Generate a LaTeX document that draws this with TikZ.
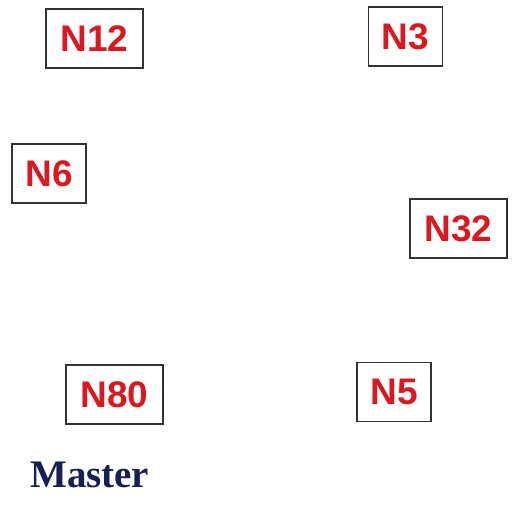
\documentclass[tikz,border=0pt]{standalone}
\usepackage{fontspec}
\setmainfont{Liberation Serif}
\newfontfamily\boxfont{Liberation Sans}
\usetikzlibrary{positioning}
\definecolor{nodered}{RGB}{218,24,32}
\definecolor{mastblue}{RGB}{22,32,84}

\begin{document}
\begin{tikzpicture}[
  x=1pt,y=-1pt,
  nodebox/.style={draw=black!80,line width=1.3pt,minimum height=59pt,inner sep=0pt,
    text=nodered,font=\boxfont\fontsize{37}{40}\selectfont\bfseries},
  wide/.style={minimum width=97pt},
  narrow/.style={minimum width=74pt}
]
  \useasboundingbox (0,0) rectangle (516,511);

  \node[nodebox,wide] (n12) at (94.5,38.5) {N12};
  \node[nodebox,narrow] (n3) at (405.5,36.5) {N3};
  \node[nodebox,narrow] (n6) at (49,173.5) {N6};
  \node[nodebox,wide] (n32) at (458.5,228.5) {N32};
  \node[nodebox,wide] (n80) at (114.5,394.5) {N80};
  \node[nodebox,narrow] (n5) at (394,392) {N5};

  \node[text=mastblue,font=\fontsize{39}{42}\selectfont\bfseries,anchor=base west,inner sep=0pt]
    (master) at (30,487) {Master};
\end{tikzpicture}
\end{document}
